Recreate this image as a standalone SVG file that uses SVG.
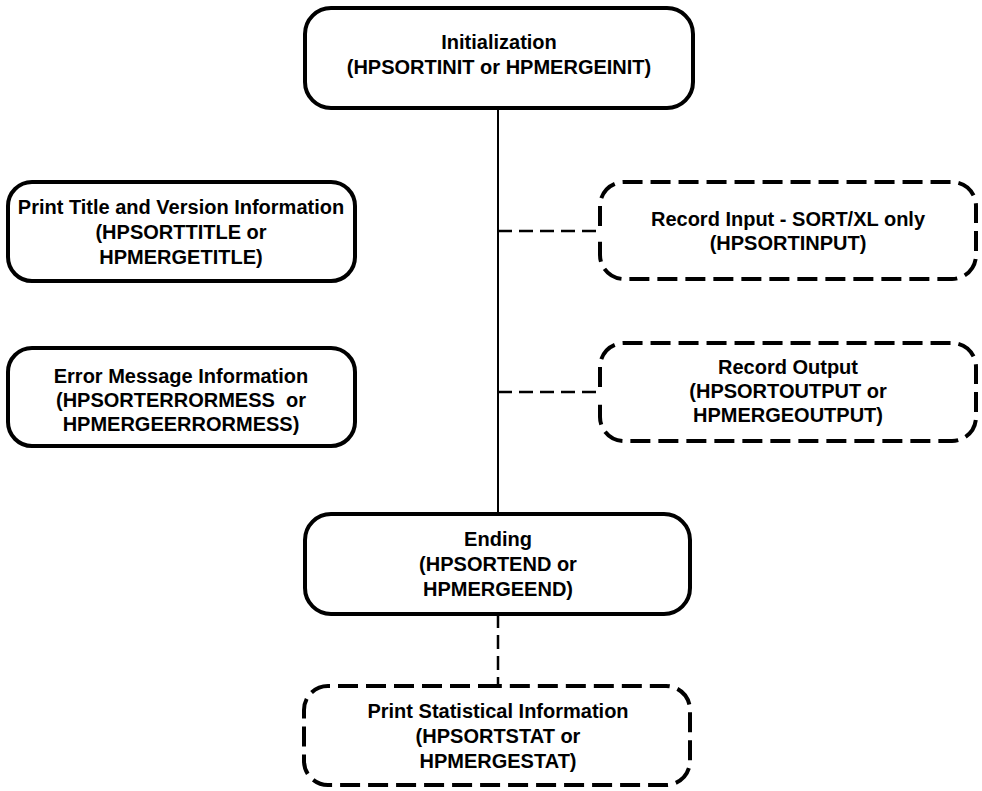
<svg xmlns="http://www.w3.org/2000/svg" width="982" height="791" viewBox="0 0 982 791">
<style>
.box{fill:#fff;stroke:#000;stroke-width:4}
.bg{fill:#fff;stroke:none}
.dbox{fill:none;stroke:#000;stroke-width:4;stroke-dasharray:20 8;stroke-linecap:butt}
.line{stroke:#000;stroke-width:2;fill:none}
.dline{stroke:#000;stroke-width:2.5;fill:none;stroke-dasharray:14 7}
text{font-family:"Liberation Sans",Arial,sans-serif;font-size:20px;font-weight:bold;text-anchor:middle;fill:#000}
</style>
<rect width="982" height="791" fill="#fff"/>
<g id="connectors">
<line class="line" x1="498" y1="108" x2="498" y2="514"/>
<line class="dline" x1="498" y1="231" x2="600" y2="231"/>
<line class="dline" x1="498" y1="392" x2="600" y2="392"/>
<line class="dline" x1="498" y1="614" x2="498" y2="686"/>
</g>
<g id="init">
<rect class="box" x="305" y="8" width="388" height="100" rx="26"/>
<text x="499" y="49">Initialization</text>
<text x="499" y="74">(HPSORTINIT or HPMERGEINIT)</text>
</g>
<g id="title">
<rect class="box" x="8" y="182" width="347" height="99" rx="24"/>
<text x="181" y="214">Print Title and Version Information</text>
<text x="181" y="239">(HPSORTTITLE or</text>
<text x="181" y="264">HPMERGETITLE)</text>
</g>
<g id="error">
<rect class="box" x="8" y="348" width="347" height="98" rx="24"/>
<text x="181" y="383">Error Message Information</text>
<text x="181" y="407">(HPSORTERRORMESS&#160; or</text>
<text x="181" y="431">HPMERGEERRORMESS)</text>
</g>
<g id="input">
<rect class="bg" x="600" y="182" width="376" height="97" rx="24"/>
<path class="dbox" d="M600,226 V206 A24,24 0 0 1 624,182 H952 A24,24 0 0 1 976,206 V255 A24,24 0 0 1 952,279 H624 A24,24 0 0 1 600,255 V236"/>
<text x="788" y="226">Record Input - SORT/XL only</text>
<text x="788" y="250">(HPSORTINPUT)</text>
</g>
<g id="output">
<rect class="bg" x="600" y="343" width="376" height="98" rx="24"/>
<path class="dbox" d="M600,387 V367 A24,24 0 0 1 624,343 H952 A24,24 0 0 1 976,367 V417 A24,24 0 0 1 952,441 H624 A24,24 0 0 1 600,417 V397"/>
<text x="788" y="374">Record Output</text>
<text x="788" y="398">(HPSORTOUTPUT or</text>
<text x="788" y="422">HPMERGEOUTPUT)</text>
</g>
<g id="ending">
<rect class="box" x="305" y="514" width="385" height="100" rx="26"/>
<text x="498" y="546">Ending</text>
<text x="498" y="571">(HPSORTEND or</text>
<text x="498" y="596">HPMERGEEND)</text>
</g>
<g id="stat">
<rect class="bg" x="304" y="686" width="386" height="99" rx="24"/>
<path class="dbox" d="M498,686 H328 A24,24 0 0 0 304,710 V761 A24,24 0 0 0 328,785 H666 A24,24 0 0 0 690,761 V710 A24,24 0 0 0 666,686 H498"/>
<text x="498" y="718">Print Statistical Information</text>
<text x="498" y="743">(HPSORTSTAT or</text>
<text x="498" y="768">HPMERGESTAT)</text>
</g>
</svg>
